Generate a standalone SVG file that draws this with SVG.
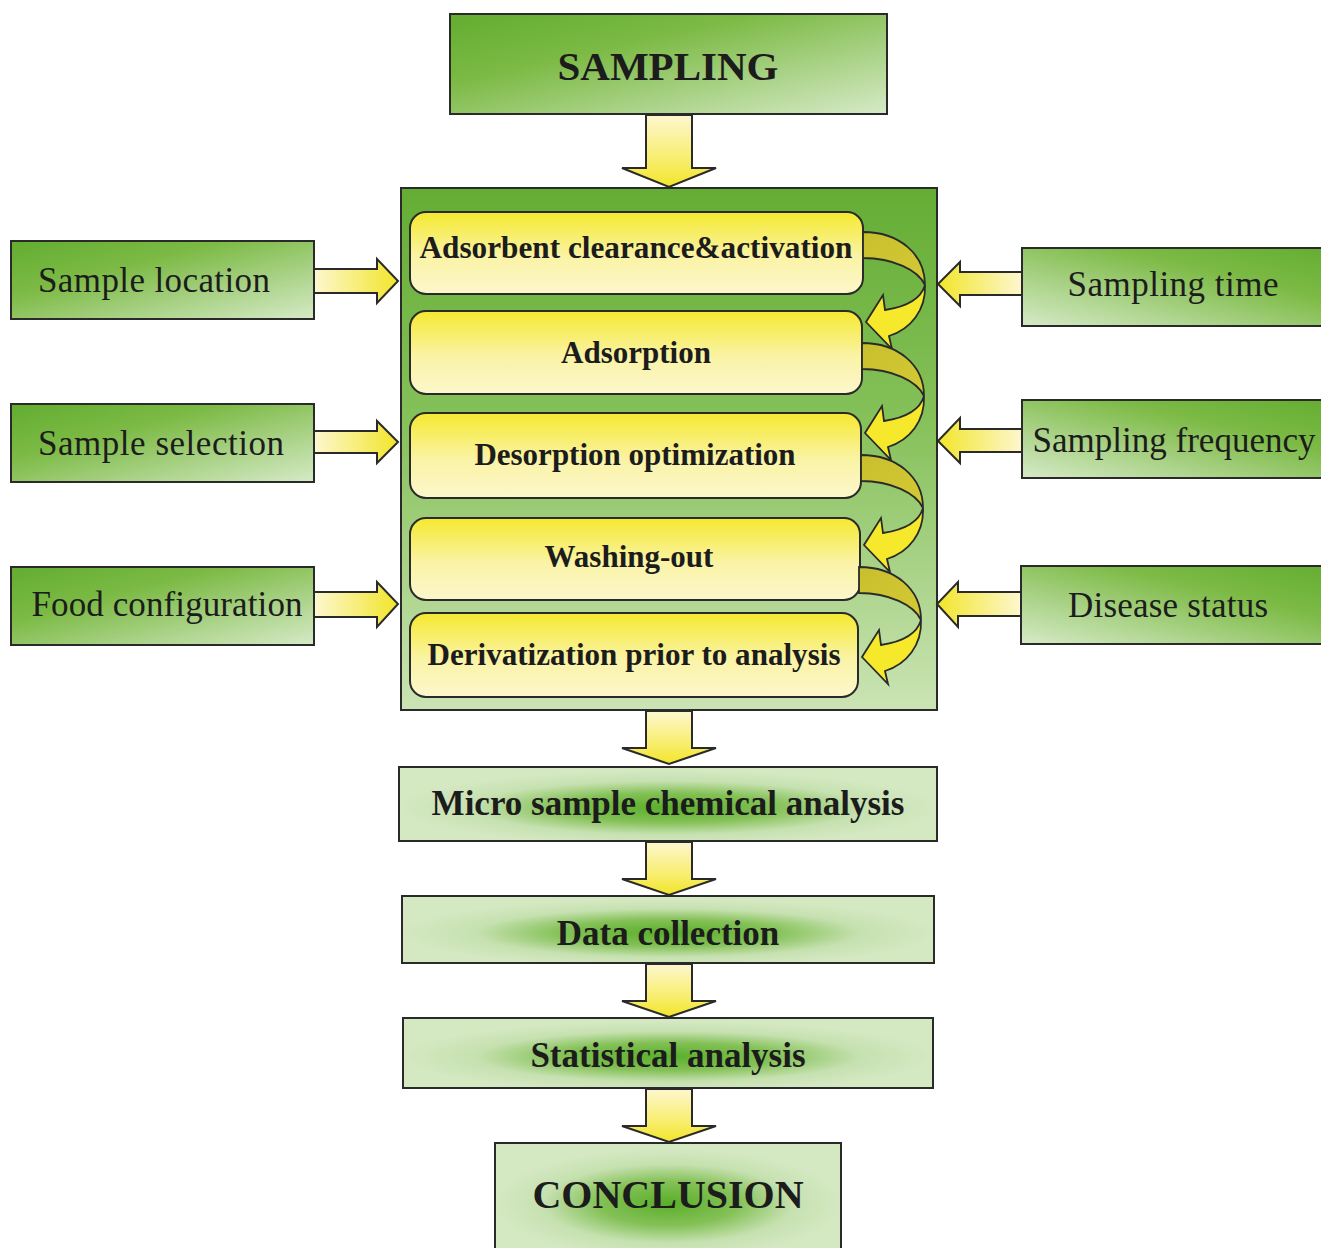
<svg xmlns="http://www.w3.org/2000/svg" xmlns:xlink="http://www.w3.org/1999/xlink" width="1321" height="1248" viewBox="0 0 1321 1248">
<defs>
  <linearGradient id="gLeft" x1="0" y1="0" x2="1" y2="1">
    <stop offset="0" stop-color="#62ad30"/>
    <stop offset="0.35" stop-color="#7cba45"/>
    <stop offset="1" stop-color="#d6eac7"/>
  </linearGradient>
  <linearGradient id="gRight" x1="1" y1="0" x2="0" y2="1">
    <stop offset="0" stop-color="#62ad30"/>
    <stop offset="0.35" stop-color="#7cba45"/>
    <stop offset="1" stop-color="#d6eac7"/>
  </linearGradient>
  <linearGradient id="gCont" x1="0" y1="0" x2="0" y2="1">
    <stop offset="0" stop-color="#64ad34"/>
    <stop offset="0.45" stop-color="#86c15a"/>
    <stop offset="1" stop-color="#cbe4b4"/>
  </linearGradient>
  <radialGradient id="gMid" cx="0.5" cy="0.55" r="0.5">
    <stop offset="0" stop-color="#5aaf2a"/>
    <stop offset="0.4" stop-color="#84c157"/>
    <stop offset="0.72" stop-color="#c6e1b0"/>
    <stop offset="1" stop-color="#d4e8c2"/>
  </radialGradient>
  <linearGradient id="gInner" x1="0" y1="0" x2="0" y2="1">
    <stop offset="0" stop-color="#f5e92f"/>
    <stop offset="0.55" stop-color="#faf3a6"/>
    <stop offset="1" stop-color="#fcf7cc"/>
  </linearGradient>
  <linearGradient id="gDown" x1="0" y1="0" x2="0" y2="1">
    <stop offset="0" stop-color="#fdf7cf"/>
    <stop offset="0.6" stop-color="#f8ee70"/>
    <stop offset="1" stop-color="#f2e52a"/>
  </linearGradient>
  <linearGradient id="gToRight" x1="0" y1="0" x2="1" y2="0">
    <stop offset="0" stop-color="#fdf7cf"/>
    <stop offset="1" stop-color="#f2e52a"/>
  </linearGradient>
  <linearGradient id="gToLeft" x1="1" y1="0" x2="0" y2="0">
    <stop offset="0" stop-color="#fdf7cf"/>
    <stop offset="1" stop-color="#f2e52a"/>
  </linearGradient>
  <linearGradient id="gBack" x1="0" y1="0" x2="1" y2="1">
    <stop offset="0" stop-color="#c8bf2c"/>
    <stop offset="1" stop-color="#d4ca36"/>
  </linearGradient>
  <g id="curl">
    <path class="curlBack" d="M0,0 C36,0 62,22 62,53 C55,38 30,26 0,26 Z"/>
    <path class="curlFront" d="M62,53 C63,78 48,97 26,104 L29,117 L3,90 L20,63 L22,78 C42,75 58,67 62,53 Z"/>
  </g>
</defs>
<style>
  .box { stroke: #2a2a2a; stroke-width: 2; }
  .side { fill: url(#gLeft); }
  .sideR { fill: url(#gRight); }
  .mid { fill: url(#gMid); }
  .inner { fill: url(#gInner); stroke: #2a2a2a; stroke-width: 2; }
  .arrowD { fill: url(#gDown); stroke: #2a2a2a; stroke-width: 2; stroke-linejoin: miter; }
  .arrowR { fill: url(#gToRight); stroke: #2a2a2a; stroke-width: 2; }
  .arrowL { fill: url(#gToLeft); stroke: #2a2a2a; stroke-width: 2; }
  .curlBack { fill: url(#gBack); stroke: #2a2a2a; stroke-width: 1.8; }
  .curlFront { fill: #f6e82a; stroke: #2a2a2a; stroke-width: 1.8; stroke-linejoin: miter; }
  .tReg { font-family: "Liberation Serif", "Times New Roman", serif; font-size: 35px; fill: #1c1c1c; text-anchor: middle; }
  .tBold { font-family: "Liberation Serif", "Times New Roman", serif; font-weight: bold; fill: #1c1c1c; text-anchor: middle; }
  .tIn { font-size: 31px; }
  .tMid { font-size: 35px; }
  .tBig { font-size: 41px; }
</style>
<rect width="1321" height="1248" fill="#ffffff"/>

<g id="sampling">
  <rect class="box side" x="450" y="14" width="437" height="100"/>
  <text class="tBold tBig" x="668" y="80">SAMPLING</text>
</g>

<g id="container">
  <rect class="box" x="401" y="188" width="536" height="522" fill="url(#gCont)"/>
</g>

<g id="step1">
  <rect class="inner" x="410" y="212" width="453" height="82" rx="16"/>
  <text class="tBold tIn" x="636" y="258" textLength="433" lengthAdjust="spacingAndGlyphs">Adsorbent clearance&amp;activation</text>
</g>
<g id="step2">
  <rect class="inner" x="410" y="311" width="452" height="83" rx="16"/>
  <text class="tBold tIn" x="636" y="363">Adsorption</text>
</g>
<g id="step3">
  <rect class="inner" x="410" y="413" width="451" height="85" rx="16"/>
  <text class="tBold tIn" x="635" y="465">Desorption optimization</text>
</g>
<g id="step4">
  <rect class="inner" x="410" y="518" width="450" height="82" rx="16"/>
  <text class="tBold tIn" x="629" y="567">Washing-out</text>
</g>
<g id="step5">
  <rect class="inner" x="410" y="613" width="448" height="84" rx="16"/>
  <text class="tBold tIn" x="634" y="665" textLength="413" lengthAdjust="spacingAndGlyphs">Derivatization prior to analysis</text>
</g>

<g id="sample-location">
  <rect class="box side" x="11" y="241" width="303" height="78"/>
  <text class="tReg" x="154" y="292" textLength="232" lengthAdjust="spacing">Sample location</text>
</g>
<g id="sample-selection">
  <rect class="box side" x="11" y="404" width="303" height="78"/>
  <text class="tReg" x="161" y="455" textLength="246" lengthAdjust="spacing">Sample selection</text>
</g>
<g id="food-configuration">
  <rect class="box side" x="11" y="567" width="303" height="78"/>
  <text class="tReg" x="167" y="616" textLength="271" lengthAdjust="spacing">Food configuration</text>
</g>

<g id="sampling-time">
  <rect class="box sideR" x="1022" y="248" width="320" height="78"/>
  <text class="tReg" x="1173" y="296" textLength="211" lengthAdjust="spacing">Sampling time</text>
</g>
<g id="sampling-frequency">
  <rect class="box sideR" x="1022" y="400" width="320" height="78"/>
  <text class="tReg" x="1174" y="452" textLength="283" lengthAdjust="spacing">Sampling frequency</text>
</g>
<g id="disease-status">
  <rect class="box sideR" x="1021" y="566" width="320" height="78"/>
  <text class="tReg" x="1168" y="617" textLength="200" lengthAdjust="spacing">Disease status</text>
</g>

<g id="micro-analysis">
  <rect class="box mid" x="399" y="767" width="538" height="74"/>
  <text class="tBold tMid" x="668" y="815">Micro sample chemical analysis</text>
</g>
<g id="data-collection">
  <rect class="box mid" x="402" y="896" width="532" height="67"/>
  <text class="tBold tMid" x="668" y="945">Data collection</text>
</g>
<g id="statistical-analysis">
  <rect class="box mid" x="403" y="1018" width="530" height="70"/>
  <text class="tBold tMid" x="668" y="1067">Statistical analysis</text>
</g>
<g id="conclusion">
  <rect class="box mid" x="495" y="1143" width="346" height="110"/>
  <text class="tBold" x="668" y="1208" font-size="40">CONCLUSION</text>
</g>

<g id="connectors">
  <polygon class="arrowD" points="646,115 692,115 692,168 716,168 669,187 622,168 646,168"/>
  <polygon class="arrowD" points="646,711 692,711 692,748 716,748 669,764 622,748 646,748"/>
  <polygon class="arrowD" points="646,842 692,842 692,879 716,879 669,895 622,879 646,879"/>
  <polygon class="arrowD" points="646,964 692,964 692,1001 716,1001 669,1017 622,1001 646,1001"/>
  <polygon class="arrowD" points="646,1089 692,1089 692,1126 716,1126 669,1142 622,1126 646,1126"/>
  <polygon class="arrowR" points="314,269 377,269 377,259 398,281 377,303 377,293 314,293"/>
  <polygon class="arrowR" points="314,431 377,431 377,421 398,442 377,463 377,453 314,453"/>
  <polygon class="arrowR" points="314,592 377,592 377,582 398,604 377,627 377,617 314,617"/>
  <polygon class="arrowL" points="1022,272 960,272 960,262 938,284 960,306 960,295 1022,295"/>
  <polygon class="arrowL" points="1022,429 960,429 960,418 938,441 960,463 960,452 1022,452"/>
  <polygon class="arrowL" points="1021,592 958,592 958,582 937,604 958,627 958,616 1021,616"/>
  <use xlink:href="#curl" transform="translate(863,232)"/>
  <use xlink:href="#curl" transform="translate(862,343)"/>
  <use xlink:href="#curl" transform="translate(861,455)"/>
  <use xlink:href="#curl" transform="translate(859,567)"/>
</g>
</svg>
